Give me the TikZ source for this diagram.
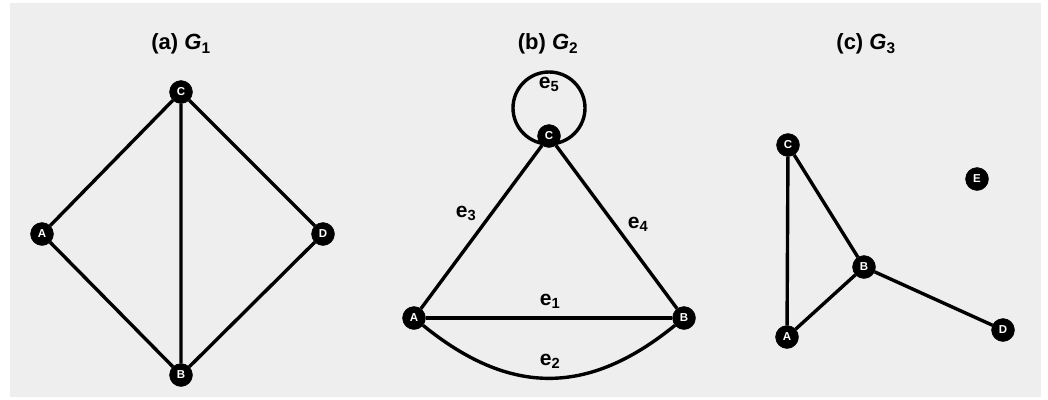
\documentclass[tikz,border=0pt]{standalone}
\usepackage{fontspec}
\setmainfont{Liberation Sans}
\pgfdeclarelayer{bg}
\pgfdeclarelayer{edges}
\pgfsetlayers{bg,edges,main}
\begin{document}
\begin{tikzpicture}[x=1pt,y=-1pt,
  vert/.style={circle,fill=black,draw=black,minimum size=23pt,inner sep=0pt,text=white,font=\bfseries\fontsize{11.5}{11.5}\selectfont},
  edgeline/.style={line width=3.4pt,black},
  title/.style={font=\bfseries\fontsize{22}{24}\selectfont},
  elabel/.style={font=\bfseries\fontsize{21}{23}\selectfont}]
\useasboundingbox (0,0) rectangle (1048,399);
\begin{pgfonlayer}{bg}
\fill[white] (0,0) rectangle (1048,399);
\fill[gray!13] (10,3) rectangle (1041,397);
\end{pgfonlayer}
% titles
\node[title] (t1) at (181,44) {(a) \textit{G}\textsubscript{1}};
\node[title] (t2) at (548,44) {(b) \textit{G}\textsubscript{2}};
\node[title] (t3) at (866,44) {(c) \textit{G}\textsubscript{3}};
% G1
\node[vert] (C1) at (181,92) {C};
\node[vert] (A1) at (42,234) {A};
\node[vert] (D1) at (323,234) {D};
\node[vert] (B1) at (181,375) {B};
% G2
\node[vert] (C2) at (549,136) {C};
\node[vert] (A2) at (414,318) {A};
\node[vert] (B2) at (684,318) {B};
% G3
\node[vert] (C3) at (788,145) {C};
\node[vert] (E3) at (977,179) {E};
\node[vert] (B3) at (864,267) {B};
\node[vert] (A3) at (787,337) {A};
\node[vert] (D3) at (1003,330) {D};
\begin{pgfonlayer}{edges}
\draw[edgeline] (C1) -- (A1) -- (B1) -- (D1) -- (C1) -- (B1);
\draw[edgeline] (A2) -- (B2);
\draw[edgeline] (A2) .. controls (510,396) and (588,396) .. (B2);
\draw[edgeline] (A2) -- (C2) -- (B2);
\draw[edgeline] (C2.center) ++(0,-28) circle[radius=36pt];
\draw[edgeline] (A3) -- (C3) -- (B3) -- (A3);
\draw[edgeline] (B3) -- (D3);
\end{pgfonlayer}
% edge labels
\node[elabel] (le5) at (549,84) {e\textsubscript{5}};
\node[elabel] (le3) at (466,213) {e\textsubscript{3}};
\node[elabel] (le4) at (638,224) {e\textsubscript{4}};
\node[elabel] (le1) at (550,301) {e\textsubscript{1}};
\node[elabel] (le2) at (550,361) {e\textsubscript{2}};
\end{tikzpicture}
\end{document}
